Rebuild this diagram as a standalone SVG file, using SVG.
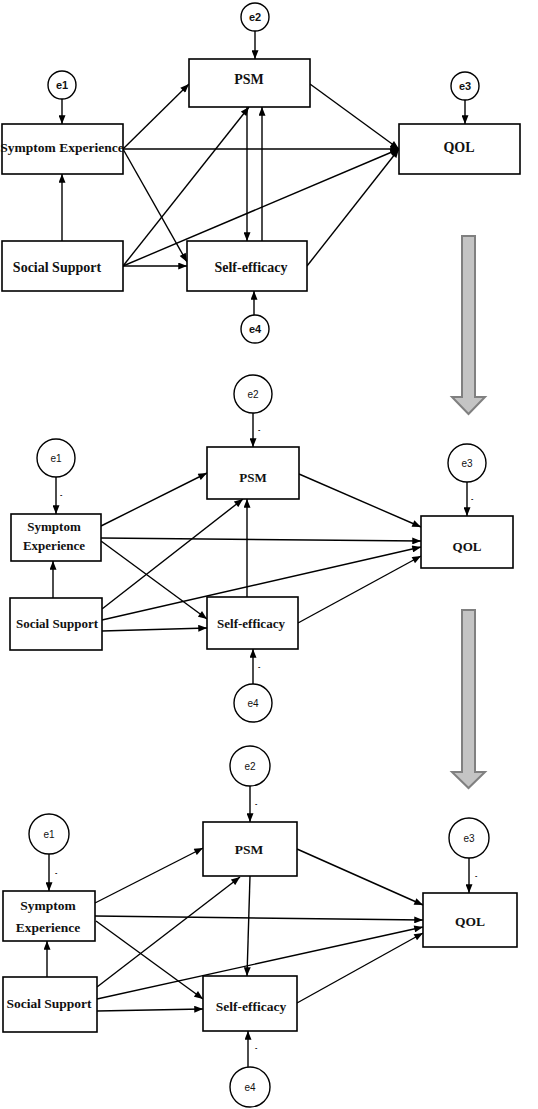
<svg xmlns="http://www.w3.org/2000/svg" width="538" height="1109" viewBox="0 0 538 1109">
<style>
.box{fill:#fff;stroke:#000;stroke-width:1.6}
.err{fill:#fff;stroke:#000;stroke-width:1.4}
.lbl{font-family:"Liberation Serif","Times New Roman",serif;font-weight:bold;fill:#111;text-anchor:middle}
.el{font-family:"Liberation Sans",Arial,sans-serif;fill:#111;text-anchor:middle}
.tiny{font-family:"Liberation Sans",Arial,sans-serif;font-size:7px;fill:#111;font-weight:bold}
.c line{stroke:#000;stroke-width:1.4;marker-end:url(#ah)}
.big{fill:#c4c4c4;stroke:#808080;stroke-width:2}
</style>
<defs>
<marker id="ah" viewBox="0 0 10 8" markerWidth="10" markerHeight="7" refX="10" refY="4" orient="auto" markerUnits="userSpaceOnUse">
<path d="M0,0 L10,4 L0,8 z" fill="#000"/>
</marker>
</defs>
<rect width="538" height="1109" fill="#fff"/>

<!-- big gray arrows -->
<g id="flow1"><polygon class="big" points="462,236 475,236 475,397 485,397 468.5,414 452,397 462,397"/></g>
<g id="flow2"><polygon class="big" points="462,610 475,610 475,772 485,772 468.5,788 452,772 462,772"/></g>

<!-- ================= Panel 1 connectors ================= -->
<g id="connectors1" class="c">
<line x1="255" y1="31" x2="255" y2="59"/>
<line x1="62" y1="99" x2="62" y2="124"/>
<line x1="465" y1="100" x2="465" y2="124"/>
<line x1="254" y1="315" x2="254" y2="291"/>
<line x1="62" y1="241" x2="62" y2="174"/>
<line x1="123" y1="149" x2="189" y2="84"/>
<line x1="123" y1="149" x2="399" y2="149"/>
<line x1="123" y1="149" x2="187" y2="262"/>
<line x1="123" y1="266" x2="249" y2="107"/>
<line x1="123" y1="266" x2="399" y2="149"/>
<line x1="123" y1="266" x2="187" y2="266"/>
<line x1="247" y1="107" x2="247" y2="241"/>
<line x1="262" y1="241" x2="262" y2="107"/>
<line x1="310" y1="84" x2="399" y2="149"/>
<line x1="307" y1="266" x2="399" y2="149"/>
</g>
<g id="p1-e2"><circle class="err" cx="255" cy="17" r="14"/><text class="el" x="255" y="21" font-size="11" font-weight="bold">e2</text></g>
<g id="p1-e1"><circle class="err" cx="62" cy="85" r="14"/><text class="el" x="62" y="89" font-size="11" font-weight="bold">e1</text></g>
<g id="p1-e3"><circle class="err" cx="465" cy="86" r="14"/><text class="el" x="465" y="90" font-size="11" font-weight="bold">e3</text></g>
<g id="p1-e4"><circle class="err" cx="255" cy="329" r="14"/><text class="el" x="255" y="333" font-size="11" font-weight="bold">e4</text></g>
<g id="p1-psm"><rect class="box" x="189" y="59" width="121" height="48"/><text class="lbl" x="249" y="84" font-size="14">PSM</text></g>
<g id="p1-se"><rect class="box" x="2" y="124" width="121" height="50"/><text class="lbl" x="62" y="152" font-size="13.5">Symptom Experience</text></g>
<g id="p1-qol"><rect class="box" x="399" y="124" width="121" height="50"/><text class="lbl" x="459" y="152" font-size="14">QOL</text></g>
<g id="p1-ss"><rect class="box" x="2" y="241" width="121" height="50"/><text class="lbl" x="57" y="272" font-size="14">Social Support</text></g>
<g id="p1-sef"><rect class="box" x="187" y="241" width="120" height="50"/><text class="lbl" x="251" y="272" font-size="14">Self-efficacy</text></g>

<!-- ================= Panel 2 connectors ================= -->
<g id="connectors2" class="c">
<line x1="253" y1="413" x2="253" y2="447"/>
<line x1="56" y1="477" x2="56" y2="514"/>
<line x1="467" y1="482" x2="467" y2="516"/>
<line x1="253" y1="684" x2="253" y2="649"/>
<line x1="53" y1="598" x2="53" y2="561"/>
<line x1="101" y1="526" x2="207" y2="473"/>
<line x1="101" y1="538" x2="421" y2="541"/>
<line x1="101" y1="541" x2="207" y2="619"/>
<line x1="102" y1="609" x2="243" y2="499"/>
<line x1="102" y1="620" x2="421" y2="547"/>
<line x1="102" y1="631" x2="207" y2="628"/>
<line x1="247" y1="597" x2="247" y2="499"/>
<line x1="299" y1="474" x2="421" y2="527"/>
<line x1="298" y1="623" x2="421" y2="556"/>
</g>
<g id="p2-marks">
<text class="tiny" x="258" y="432">-</text>
<text class="tiny" x="60" y="497">-</text>
<text class="tiny" x="471" y="501">-</text>
<text class="tiny" x="258" y="669">-</text>
</g>
<g id="p2-e2"><circle class="err" cx="253" cy="394" r="19"/><text class="el" x="253" y="397.5" font-size="10">e2</text></g>
<g id="p2-e1"><circle class="err" cx="56" cy="458" r="19"/><text class="el" x="56" y="461.5" font-size="10">e1</text></g>
<g id="p2-e3"><circle class="err" cx="467" cy="463" r="19"/><text class="el" x="467" y="466.5" font-size="10">e3</text></g>
<g id="p2-e4"><circle class="err" cx="253" cy="703" r="19"/><text class="el" x="253" y="706.5" font-size="10">e4</text></g>
<g id="p2-psm"><rect class="box" x="207" y="447" width="92" height="52"/><text class="lbl" x="253" y="482" font-size="13">PSM</text></g>
<g id="p2-se"><rect class="box" x="11" y="514" width="90" height="47"/><text class="lbl" x="54" y="531" font-size="13">Symptom</text><text class="lbl" x="54" y="550" font-size="13">Experience</text></g>
<g id="p2-qol"><rect class="box" x="421" y="516" width="92" height="52"/><text class="lbl" x="467" y="551" font-size="13">QOL</text></g>
<g id="p2-ss"><rect class="box" x="10" y="598" width="92" height="52"/><text class="lbl" x="57" y="628" font-size="13">Social Support</text></g>
<g id="p2-sef"><rect class="box" x="207" y="597" width="91" height="52"/><text class="lbl" x="251" y="628" font-size="13">Self-efficacy</text></g>

<!-- ================= Panel 3 connectors ================= -->
<g id="connectors3" class="c">
<line x1="250" y1="786" x2="250" y2="822"/>
<line x1="49" y1="854" x2="49" y2="891"/>
<line x1="469" y1="858" x2="469" y2="893"/>
<line x1="248" y1="1067" x2="248" y2="1031"/>
<line x1="47" y1="977" x2="47" y2="941"/>
<line x1="95" y1="903" x2="203" y2="848"/>
<line x1="95" y1="916" x2="423" y2="920"/>
<line x1="96" y1="921" x2="203" y2="999"/>
<line x1="97" y1="987" x2="240" y2="877"/>
<line x1="97" y1="999" x2="423" y2="927"/>
<line x1="97" y1="1011" x2="203" y2="1009"/>
<line x1="250" y1="876" x2="247" y2="976"/>
<line x1="297" y1="849" x2="423" y2="905"/>
<line x1="297" y1="1003" x2="423" y2="933"/>
</g>
<g id="p3-marks">
<text class="tiny" x="255" y="806">-</text>
<text class="tiny" x="55" y="875">-</text>
<text class="tiny" x="475" y="878">-</text>
<text class="tiny" x="255" y="1050">-</text>
</g>
<g id="p3-e2"><circle class="err" cx="250" cy="766" r="20"/><text class="el" x="250" y="769.5" font-size="10">e2</text></g>
<g id="p3-e1"><circle class="err" cx="49" cy="834" r="20"/><text class="el" x="49" y="837.5" font-size="10">e1</text></g>
<g id="p3-e3"><circle class="err" cx="469" cy="838" r="20"/><text class="el" x="469" y="841.5" font-size="10">e3</text></g>
<g id="p3-e4"><circle class="err" cx="250" cy="1087" r="20"/><text class="el" x="250" y="1090.5" font-size="10">e4</text></g>
<g id="p3-psm"><rect class="box" x="203" y="822" width="94" height="54"/><text class="lbl" x="249" y="854" font-size="13.5">PSM</text></g>
<g id="p3-se"><rect class="box" x="3" y="891" width="92" height="50"/><text class="lbl" x="48" y="909.5" font-size="13.5">Symptom</text><text class="lbl" x="48" y="931.5" font-size="13.5">Experience</text></g>
<g id="p3-qol"><rect class="box" x="423" y="893" width="94" height="54"/><text class="lbl" x="470" y="926" font-size="13.5">QOL</text></g>
<g id="p3-ss"><rect class="box" x="3" y="977" width="94" height="55"/><text class="lbl" x="49" y="1008" font-size="13.5">Social Support</text></g>
<g id="p3-sef"><rect class="box" x="203" y="976" width="94" height="55"/><text class="lbl" x="251" y="1011" font-size="13.5">Self-efficacy</text></g>
</svg>
